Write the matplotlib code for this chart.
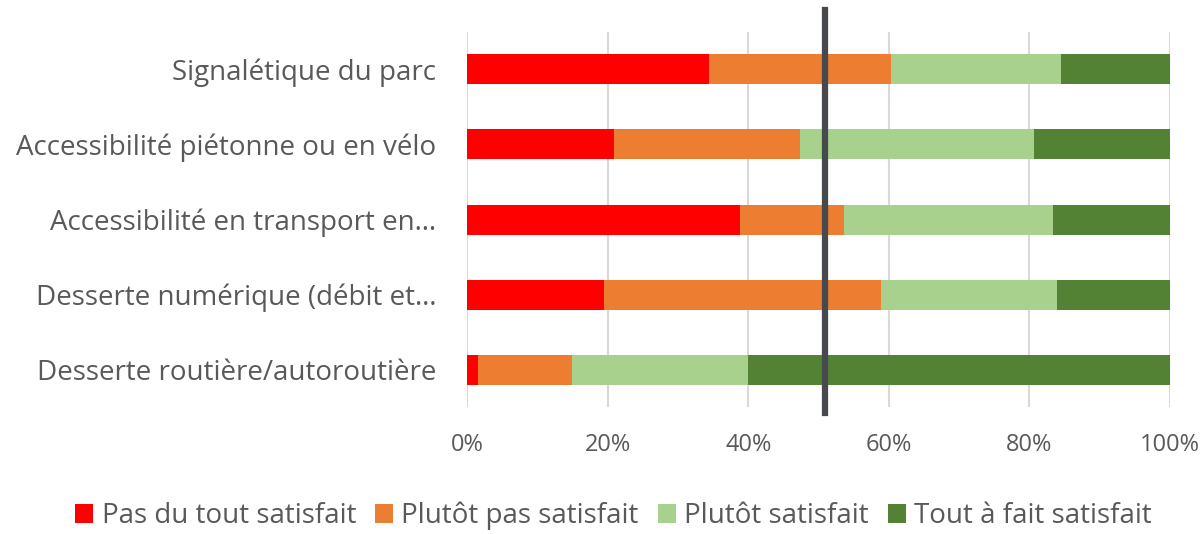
import matplotlib
matplotlib.use("Agg")
import matplotlib.pyplot as plt
import numpy as np

categories = [
    "Signalétique du parc",
    "Accessibilité piétonne ou en vélo",
    "Accessibilité en transport en…",
    "Desserte numérique (débit et…",
    "Desserte routière/autoroutière",
]
series_names = ["Pas du tout satisfait", "Plutôt pas satisfait",
                "Plutôt satisfait", "Tout à fait satisfait"]
pas_du_tout = [34.4, 20.9, 38.8, 19.5, 1.6]
plutot_pas = [25.9, 26.5, 14.8, 39.4, 13.3]
plutot = [24.2, 33.3, 29.7, 25.0, 25.1]
tout_a_fait = [15.5, 19.3, 16.7, 16.1, 60.0]
reference_line = 50.9
xticks = [0, 20, 40, 60, 80, 100]
xtick_labels = ["0%", "20%", "40%", "60%", "80%", "100%"]

colors = ["#ff0000", "#ed7d31", "#a9d18e", "#548235"]

plt.rcParams['font.family'] = ['Open Sans', 'DejaVu Sans']
fig = plt.figure(figsize=(12.03, 5.34), dpi=100)
ax = fig.add_axes([467/1203, 1-407/534, (1170-467)/1203, 375/534])

y = np.arange(len(categories))
left = np.zeros(len(categories))
for name, vals, c in zip(series_names, [pas_du_tout, plutot_pas, plutot, tout_a_fait], colors):
    ax.barh(y, vals, left=left, height=0.4, color=c, label=name, zorder=3)
    left = left + np.array(vals)

ax.set_ylim(len(categories) - 0.5, -0.5)
ax.set_xlim(0, 100)
ax.set_xticks(xticks)
ax.set_xticklabels(xtick_labels)
ax.set_yticks(y)
ax.set_yticklabels(categories)
ax.tick_params(axis='both', length=0, colors="#595959")
ax.tick_params(axis='y', pad=22, labelsize=20)
ax.tick_params(axis='x', pad=19, labelsize=17)
ax.grid(axis='x', color="#d9d9d9", linewidth=1.5, zorder=0)
ax.set_axisbelow(True)
for s in ax.spines.values():
    s.set_visible(False)

ax.axvline(reference_line, ymin=(407-413)/375, ymax=(407-10)/375,
           color="#464a4d", linewidth=4.5, clip_on=False, zorder=5)

fig.legend(loc='lower center', bbox_to_anchor=(0.51, -0.04), ncol=4, frameon=False,
           fontsize=20, handlelength=0.65, handleheight=0.65, handletextpad=0.3,
           columnspacing=0.68, labelcolor="#595959")

fig.savefig("out.png", dpi=100)
